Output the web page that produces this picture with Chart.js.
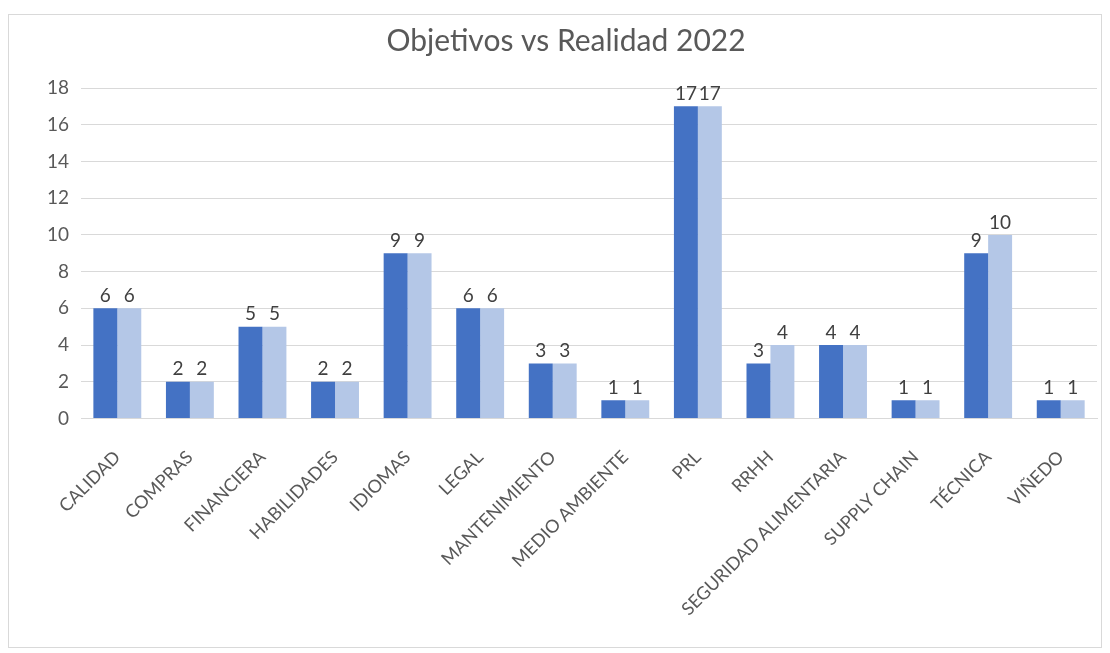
<!DOCTYPE html>
<html>
<head>
<meta charset="utf-8">
<title>Objetivos vs Realidad 2022</title>
<script src="https://cdn.jsdelivr.net/npm/chart.js@4.4.1/dist/chart.umd.min.js"></script>
<style>
  html, body { margin: 0; padding: 0; background: #fff; }
  #frame {
    position: absolute;
    left: 8px; top: 14px;
    width: 1094px; height: 634px;
    border: 1px solid #d9d9d9;
    box-sizing: border-box;
  }
  #chart { display: block; }
</style>
</head>
<body>
<div id="frame"><canvas id="chart" width="1092" height="632"></canvas></div>
<script>
// chart data
const categories = ['CALIDAD', 'COMPRAS', 'FINANCIERA', 'HABILIDADES', 'IDIOMAS', 'LEGAL',
  'MANTENIMIENTO', 'MEDIO AMBIENTE', 'PRL', 'RRHH', 'SEGURIDAD ALIMENTARIA',
  'SUPPLY CHAIN', 'TÉCNICA', 'VIÑEDO'];
const objetivos = [6, 2, 5, 2, 9, 6, 3, 1, 17, 3, 4, 1, 9, 1];
const realidad = [6, 2, 5, 2, 9, 6, 3, 1, 17, 4, 4, 1, 10, 1];
const yTicks = [0, 2, 4, 6, 8, 10, 12, 14, 16, 18];

const FONT = 'Lato, "Open Sans", sans-serif';
const TEXT = '#595959';

// draws the value above every bar
const valueLabels = {
  id: 'valueLabels',
  afterDatasetsDraw(chart) {
    const ctx = chart.ctx;
    ctx.save();
    ctx.font = '19px ' + FONT;
    ctx.fillStyle = '#404040';
    ctx.textAlign = 'center';
    ctx.textBaseline = 'bottom';
    chart.data.datasets.forEach((ds, i) => {
      const meta = chart.getDatasetMeta(i);
      meta.data.forEach((bar, j) => {
        ctx.fillText(String(ds.data[j]), bar.x, bar.y - 3);
      });
    });
    ctx.restore();
  }
};

new Chart(document.getElementById('chart'), {
  type: 'bar',
  data: {
    labels: categories,
    datasets: [
      { label: 'Objetivos', data: objetivos, backgroundColor: '#4472C4' },
      { label: 'Realidad', data: realidad, backgroundColor: '#B4C7E7' }
    ]
  },
  options: {
    responsive: false,
    animation: false,
    layout: { padding: { left: 26, right: 4, top: 8, bottom: 7 } },
    datasets: { bar: { categoryPercentage: 0.66, barPercentage: 1.0 } },
    plugins: {
      legend: { display: false },
      tooltip: { enabled: false },
      title: {
        display: true,
        text: 'Objetivos vs Realidad 2022',
        color: TEXT,
        font: { family: FONT, size: 30, weight: 'normal' },
        padding: { top: 0, bottom: 29 }
      }
    },
    scales: {
      x: {
        grid: { display: false },
        border: { display: true, color: '#d9d9d9' },
        ticks: {
          color: TEXT,
          font: { family: FONT, size: 18 },
          maxRotation: 45,
          minRotation: 45,
          autoSkip: false,
          padding: 20
        }
      },
      y: {
        min: 0,
        max: 18,
        afterBuildTicks(axis) { axis.ticks = yTicks.map(v => ({ value: v })); },
        grid: { color: '#d9d9d9', drawTicks: false },
        border: { display: false },
        ticks: {
          color: TEXT,
          font: { family: FONT, size: 19 },
          padding: 12
        }
      }
    }
  },
  plugins: [valueLabels]
});
</script>
</body>
</html>
